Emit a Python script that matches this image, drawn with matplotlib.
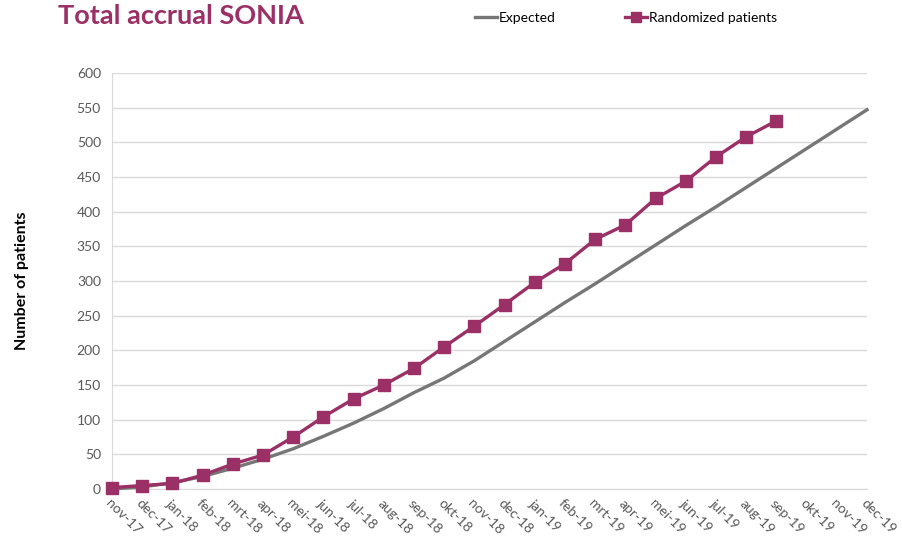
import matplotlib
matplotlib.use("Agg")
import matplotlib.pyplot as plt

plt.rcParams['font.family'] = ['Lato', 'DejaVu Sans']

# data
months = ['nov-17', 'dec-17', 'jan-18', 'feb-18', 'mrt-18', 'apr-18', 'mei-18',
          'jun-18', 'jul-18', 'aug-18', 'sep-18', 'okt-18', 'nov-18', 'dec-18',
          'jan-19', 'feb-19', 'mrt-19', 'apr-19', 'mei-19', 'jun-19', 'jul-19',
          'aug-19', 'sep-19', 'okt-19', 'nov-19', 'dec-19']
expected = [0, 3, 9, 18, 30, 43, 58, 76, 95, 116, 139, 160, 185, 213,
            241, 269, 296, 324, 352, 380, 407, 435, 463, 491, 519, 547]
randomized = [2, 5, 8, 20, 36, 49, 75, 104, 130, 150, 174, 205, 235, 266,
              298, 325, 360, 381, 419, 444, 479, 508, 531]
yticks = list(range(0, 601, 50))

purple = '#9b3066'
grey = '#767676'

fig = plt.figure(figsize=(9.02, 5.38), dpi=100)
ax = fig.add_axes([112/902, 1-489/538, (867-112)/902, (489-73)/538])

x = list(range(len(months)))
ax.plot(x, expected, color=grey, lw=2.4, label='Expected', zorder=3,
        clip_on=False)
ax.plot(x[:len(randomized)], randomized, color=purple, lw=2.4, marker='s',
        markersize=8, label='Randomized patients', zorder=4, clip_on=False)

ax.set_xlim(0, len(months) - 1)
ax.set_ylim(0, 600)
ax.set_yticks(yticks)
ax.set_xticks(x)
ax.set_xticklabels(months, rotation=-45, ha='left', va='top',
                   rotation_mode='anchor', fontsize=10, color='#595959')
ax.tick_params(axis='y', labelsize=10, labelcolor='#595959', length=0, pad=8)
ax.tick_params(axis='x', length=0, pad=6)
ax.grid(axis='y', color='#d9d9d9', lw=1)
ax.set_axisbelow(True)
for s in ['top', 'right']:
    ax.spines[s].set_visible(False)
for s in ['left', 'bottom']:
    ax.spines[s].set_color('#d9d9d9')
ax.set_ylabel('Number of patients', fontsize=11.5, fontweight='bold',
              color='black', labelpad=34)

fig.text(58/902, 1-16/538, 'Total accrual SONIA', fontsize=19.5, fontweight='bold',
         color=purple, va='center', ha='left')
fig.legend(loc='center left', bbox_to_anchor=(462/902, 1-18/538), ncol=2,
           frameon=False, fontsize=10, handlelength=1.6, handletextpad=0.15,
           columnspacing=5.0, markerscale=0.9)

fig.savefig('out.png', dpi=100)
